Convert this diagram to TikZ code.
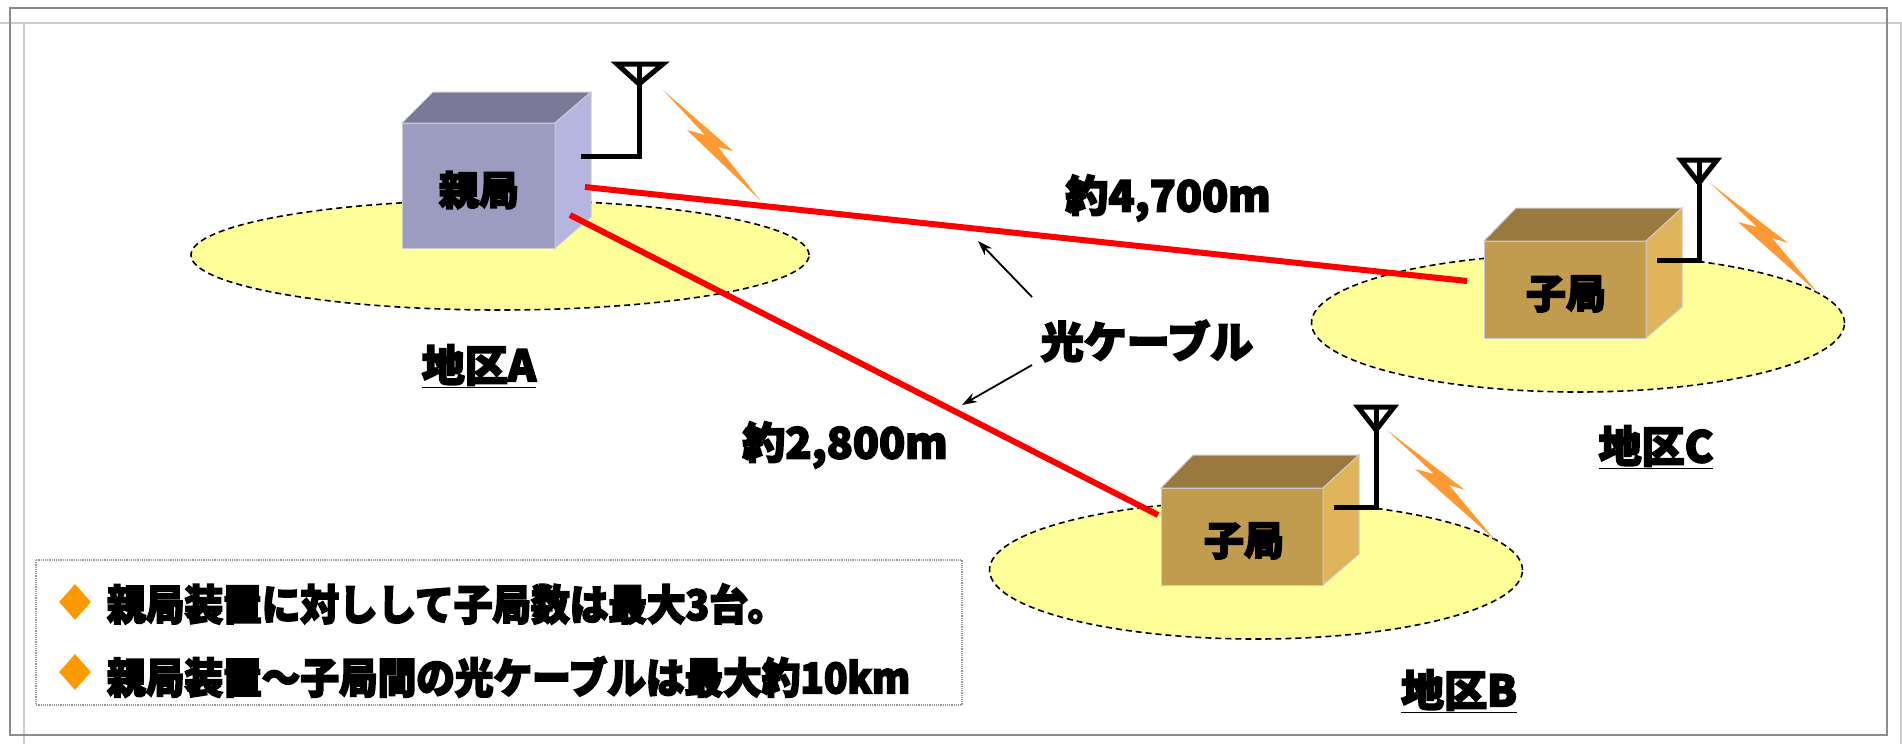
\documentclass[tikz,border=0pt]{standalone}
\usepackage{fontspec}
\usetikzlibrary{arrows.meta,shapes.geometric}
\newfontfamily\cjkheavy[FakeBold=4]{Noto Sans CJK JP Black}
\newfontfamily\cjknote[FakeStretch=0.92,FakeBold=4]{Noto Sans CJK JP Black}
\definecolor{framedark}{HTML}{8C8C8C}
\definecolor{framelight}{HTML}{CCCCCC}
\definecolor{areafill}{HTML}{FFFF99}
\definecolor{bolt}{HTML}{FF9933}
\definecolor{pfront}{HTML}{9C9CC0}
\definecolor{ptop}{HTML}{7A7A98}
\definecolor{pside}{HTML}{B5B5E0}
\definecolor{cfront}{HTML}{C29C4E}
\definecolor{ctop}{HTML}{99793D}
\definecolor{cside}{HTML}{E0B45A}
\definecolor{diam}{HTML}{FF9900}
\tikzset{
  x=1pt,y=-1pt,
  jp/.style={inner sep=0pt,font=\cjkheavy\fontsize{40}{40}\selectfont,text=black},
  jplarge/.style={inner sep=0pt,font=\cjkheavy\fontsize{43}{43}\selectfont,text=black},
  jpnote/.style={inner sep=0pt,font=\cjknote\fontsize{42}{42}\selectfont,text=black},
  area/.style={draw=black,fill=areafill,line width=1.6pt,dash pattern=on 6pt off 4pt},
  fiber/.style={draw=red,line width=6pt},
  callout/.style={draw=black,line width=1.8pt,-{Stealth[length=15pt,width=10pt]}},
  ant/.style={draw=black,line width=5pt,line join=miter},
  edge/.style={draw=framelight,line width=1pt},
  bullet/.style={diamond,fill=diam,inner sep=0pt,minimum width=32pt,minimum height=36pt,aspect=1},
  boltshape/.style={fill=bolt,draw=none},
}
\begin{document}
\begin{tikzpicture}
\useasboundingbox (0,0) rectangle (1902,744);
\fill[white] (0,0) rectangle (1902,744);
% page frames
\draw[framelight,line width=2pt] (0,23) -- (1902,23);
\draw[framelight,line width=2pt] (24,23) -- (24,744);
\draw[framelight,line width=2pt] (1901,23) -- (1901,744);
\draw[framedark,line width=2pt] (10,8) rectangle (1887,735);
% areas
\node[area,ellipse,minimum width=618pt,minimum height=110pt,inner sep=0pt] (areaA) at (500,255) {};
\node[area,ellipse,minimum width=533pt,minimum height=138pt,inner sep=0pt] (areaC) at (1578,323) {};
\node[area,ellipse,minimum width=533pt,minimum height=138pt,inner sep=0pt] (areaB) at (1256,570) {};
% parent station
\filldraw[edge,fill=pfront] (402,123) rectangle (555,248);
\filldraw[edge,fill=ptop] (402,123) -- (433,92) -- (591,92) -- (555,123) -- cycle;
\filldraw[edge,fill=pside] (555,123) -- (591,92) -- (591,217) -- (555,248) -- cycle;
\draw[ant] (581,156) -- (639,156) -- (639,84);
\draw[ant] (639,84) -- (639,64);
\draw[ant] (639,84) -- (617,64) -- (663,64) -- cycle;
\fill[boltshape] (663,90) -- (733,151) -- (718,147) -- (760,200) -- (687,130) -- (705,135) -- cycle;
\node[jp] (parent) at (479,190) {親局};
% station C
\filldraw[edge,fill=cfront] (1484,241) rectangle (1646,338);
\filldraw[edge,fill=ctop] (1484,241) -- (1516,208) -- (1682,208) -- (1646,241) -- cycle;
\filldraw[edge,fill=cside] (1646,241) -- (1682,208) -- (1682,307) -- (1646,338) -- cycle;
\draw[ant] (1657,260) -- (1699,260) -- (1699,160);
\draw[ant] (1699,183) -- (1681,160) -- (1717,160) -- cycle;
\fill[boltshape] (1710,183) -- (1788,243) -- (1772,238) -- (1818,293) -- (1738,222) -- (1757,227) -- cycle;
\node[jp] (childC) at (1566,294) {子局};
% station B
\begin{scope}[shift={(-323pt,-247pt)}]
\filldraw[edge,fill=cfront] (1484,241) rectangle (1646,338);
\filldraw[edge,fill=ctop] (1484,241) -- (1516,208) -- (1682,208) -- (1646,241) -- cycle;
\filldraw[edge,fill=cside] (1646,241) -- (1682,208) -- (1682,307) -- (1646,338) -- cycle;
\draw[ant] (1657,260) -- (1699,260) -- (1699,160);
\draw[ant] (1699,183) -- (1681,160) -- (1717,160) -- cycle;
\fill[boltshape] (1710,183) -- (1788,243) -- (1772,238) -- (1818,293) -- (1738,222) -- (1757,227) -- cycle;
\node[jp] (childB) at (1567,294) {子局};
\end{scope}
% fibres
\coordinate (pA1) at (585,187);
\coordinate (pA2) at (570,215);
\coordinate (pC) at (1467,281);
\coordinate (pB) at (1158,515);
\draw[fiber] (pA1) -- (pC);
\draw[fiber] (pA2) -- (pB);
% labels
\node[jplarge] (dist1) at (1168,198) {約4,700m};
\node[jplarge] (dist2) at (845,445) {約2,800m};
\node[jplarge] (cable) at (1147,341) {光ケーブル};
\node[jplarge] (labA) at (479,366) {\underline{地区A}};
\node[jplarge] (labC) at (1656,447) {\underline{地区C}};
\node[jplarge] (labB) at (1459,691) {\underline{地区B}};
% callouts
\coordinate (t1) at (978,241);
\coordinate (t2) at (962,405);
\coordinate (s1) at (1032,297);
\coordinate (s2) at (1032,365);
\draw[callout] (s1) -- (t1);
\draw[callout] (s2) -- (t2);
% note box
\draw[gray!80,line width=1.2pt,densely dotted] (36,560) rectangle (962,705);
\node[bullet] (b1) at (75,602) {};
\node[bullet] (b2) at (75,672) {};
\node[jpnote,anchor=west] (n1) at (107,604) {親局装置に対しして子局数は最大3台。};
\node[jpnote,anchor=west] (n2) at (107,677) {親局装置～子局間の光ケーブルは最大約10km};
\end{tikzpicture}
\end{document}
